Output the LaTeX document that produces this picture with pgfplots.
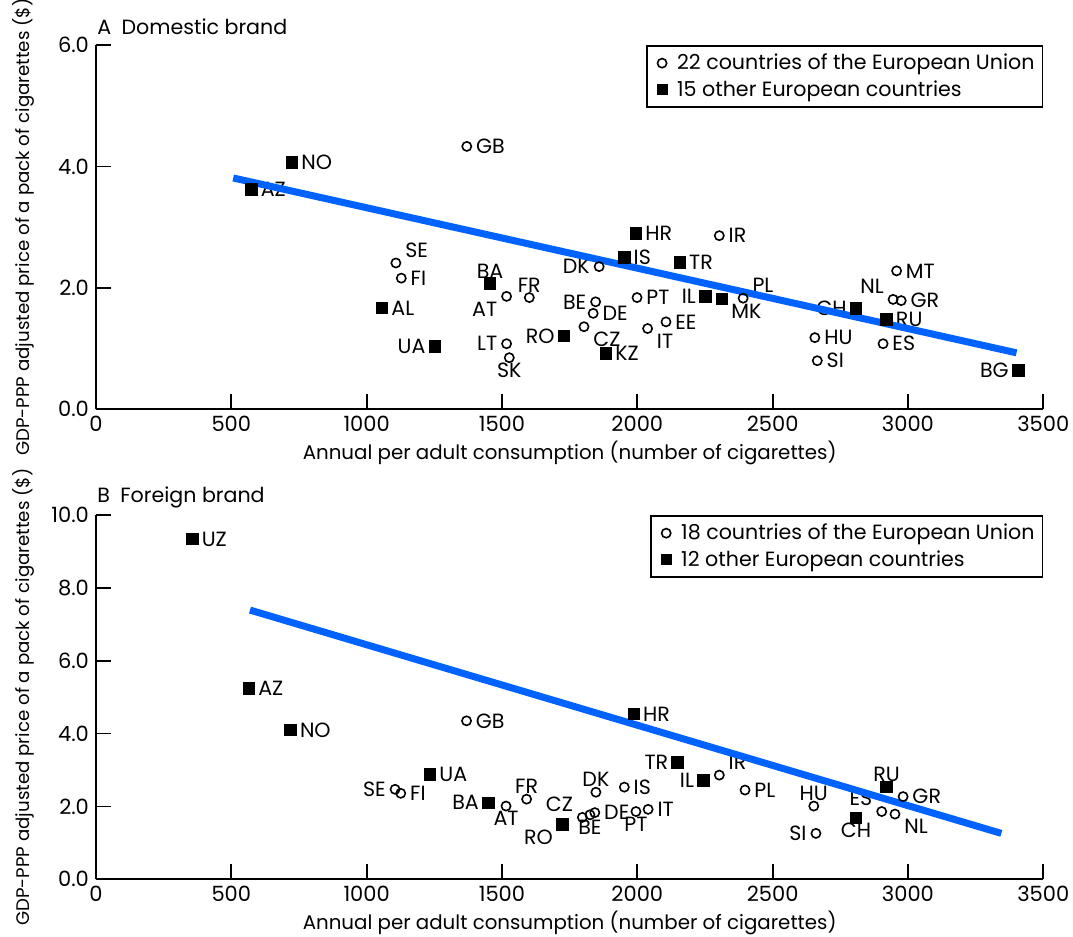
\documentclass[border=0pt]{standalone}
\usepackage{fontspec}
\setmainfont{Poppins}
\usepackage{pgfplots}
\usepackage{pgfplotstable}
\pgfplotsset{compat=1.18}
\definecolor{fitblue}{RGB}{0,98,255}

\pgfplotstableread{
x y lab anc
1370 4.33 GB W
1108 2.41 SE SW
1128 2.16 FI W
1517 1.86 AT NE
1601 1.84 FR S
1517 1.08 LT E
1527 0.85 SK N
1859 2.35 DK E
1846 1.77 BE E
1837 1.58 DE W
1803 1.36 CZ NW
1999 1.84 PT W
2038 1.33 IT NW
2106 1.44 EE W
2303 2.86 IR W
2391 1.83 PL SW
2958 2.28 MT W
2945 1.81 NL SE
2975 1.79 GR W
2656 1.18 HU W
2908 1.08 ES W
2665 0.80 SI W
}\AEU

\pgfplotstableread{
x y lab anc
724 4.07 NO W
574 3.62 AZ W
1057 1.67 AL W
1252 1.04 UA E
1456 2.07 BA S
1729 1.21 RO E
1884 0.92 KZ W
1995 2.90 HR W
1952 2.50 IS W
2157 2.42 TR W
2251 1.86 IL E
2313 1.82 MK NW
2808 1.66 CH E
2921 1.48 RU W
3407 0.64 BG E
}\AOTH

\pgfplotstableread{
x y lab anc
1369 4.35 GB W
1105 2.47 SE E
1126 2.36 FI W
1515 2.01 AT N
1591 2.20 FR S
1797 1.70 CZ SE
1825 1.77 BE N
1843 1.83 DE W
1847 2.39 DK S
1952 2.53 IS W
1995 1.86 PT N
2040 1.92 IT W
2303 2.86 IR SW
2398 2.45 PL W
2652 2.01 HU S
2660 1.26 SI E
2982 2.27 GR W
2903 1.86 ES SE
2952 1.79 NL NW
}\BEU

\pgfplotstableread{
x y lab anc
356 9.34 UZ W
565 5.24 AZ W
719 4.10 NO W
1234 2.88 UA W
1449 2.10 BA E
1723 1.51 RO NE
1987 4.54 HR W
2149 3.21 TR E
2244 2.71 IL E
2921 2.54 RU S
2808 1.69 CH N
}\BOTH

\tikzset{
  lbl/.style={inner xsep=4.5pt, inner ysep=2.5pt, font=\fontsize{10.3}{12}\selectfont, text=black},
  lbl-W/.style={anchor=west}, lbl-E/.style={anchor=east},
  lbl-N/.style={anchor=north}, lbl-S/.style={anchor=south},
  lbl-NW/.style={anchor=north west}, lbl-NE/.style={anchor=north east},
  lbl-SW/.style={anchor=south west}, lbl-SE/.style={anchor=south east},
}

\newcommand\putlabels[1]{%
  \pgfplotstablegetrowsof{#1}%
  \pgfmathtruncatemacro\nr{\pgfplotsretval-1}%
  \pgfplotsforeachungrouped \i in {0,...,\nr}{%
    \pgfplotstablegetelem{\i}{x}\of{#1}\let\vx\pgfplotsretval
    \pgfplotstablegetelem{\i}{y}\of{#1}\let\vy\pgfplotsretval
    \pgfplotstablegetelem{\i}{lab}\of{#1}\let\vl\pgfplotsretval
    \pgfplotstablegetelem{\i}{anc}\of{#1}\let\va\pgfplotsretval
    \edef\tmp{\noexpand\node[lbl, lbl-\va] at (axis cs:\vx,\vy) {\vl};}\tmp
  }}

\pgfplotsset{
  panel/.style={
    scale only axis, width=473.65pt, height=182.15pt,
    xmin=0, xmax=3500, ymin=0,
    axis x line*=bottom, axis y line*=left,
    axis line style={line width=0.9pt, black},
    xtick={0,500,...,3500},
    tick align=inside, major tick length=7.5pt,
    tick style={line width=0.9pt, black},
    /pgf/number format/assume math mode=true,
    xticklabel style={/pgf/number format/1000 sep={}},
    yticklabel style={/pgf/number format/.cd, fixed, fixed zerofill, precision=1},
    ticklabel style={font=\fontsize{10.5}{12}\selectfont},
    xlabel={Annual per adult consumption (number of cigarettes)},
    ylabel={GDP-PPP adjusted price of a pack of cigarettes (\$)},
    label style={font=\fontsize{9.9}{11}\selectfont},
    xlabel style={at={(axis description cs:0.5,0)}, anchor=center, yshift=-22pt},
    ylabel style={at={(axis description cs:-0.077,0.5)}, anchor=center, font=\fontsize{9.1}{11}\selectfont},
    title style={at={(axis description cs:0,1)}, anchor=west, yshift=3pt, xshift=0.5pt, inner sep=0pt, font=\fontsize{10.3}{12}\selectfont},
    legend style={at={(axis description cs:1,1)}, anchor=north east, draw=black, line width=0.8pt,
      font=\fontsize{10.3}{12}\selectfont, row sep=0pt, inner xsep=2pt, inner ysep=2pt},
    legend cell align=left,
    clip=false,
  },
  eu/.style={only marks, mark=o, mark size=2.3pt, mark options={line width=0.8pt, draw=black, fill=white},
    legend image code/.code={\path[draw=none,fill=none] (0pt,0pt) rectangle (11pt,0pt); \draw[##1] plot coordinates {(5.5pt,0pt)};}},
  oth/.style={only marks, mark=square*, mark size=2.9pt, mark options={draw=black, fill=black},
    legend image code/.code={\path[draw=none,fill=none] (0pt,0pt) rectangle (11pt,0pt); \draw[##1,mark size=2.3pt] plot coordinates {(5.5pt,0pt)};}},
  fit/.style={no marks, fitblue, line width=3.5pt, forget plot},
}

\begin{document}
\begin{tikzpicture}
\useasboundingbox (0,0) rectangle (536.5pt,468.5pt);

\begin{axis}[panel, at={(48pt,263.85pt)}, anchor=south west, ymax=6, ytick={0,2,4,6},
  title={A\enspace Domestic brand}]
  \addplot[eu] table[x=x,y=y] {\AEU};
  \addlegendentry{22 countries of the European Union}
  \addplot[oth] table[x=x,y=y] {\AOTH};
  \addlegendentry{15 other European countries}
  \putlabels{\AEU}
  \putlabels{\AOTH}
  \addplot[fit] coordinates {(507,3.81) (3401,0.93)};
\end{axis}

\begin{axis}[panel, at={(48pt,28.85pt)}, anchor=south west, ymax=10, ytick={0,2,4,6,8,10},
  title={B\enspace Foreign brand}]
  \addplot[eu] table[x=x,y=y] {\BEU};
  \addlegendentry{18 countries of the European Union}
  \addplot[oth] table[x=x,y=y] {\BOTH};
  \addlegendentry{12 other European countries}
  \putlabels{\BEU}
  \putlabels{\BOTH}
  \addplot[fit] coordinates {(569,7.39) (3345,1.26)};
\end{axis}
\end{tikzpicture}
\end{document}
